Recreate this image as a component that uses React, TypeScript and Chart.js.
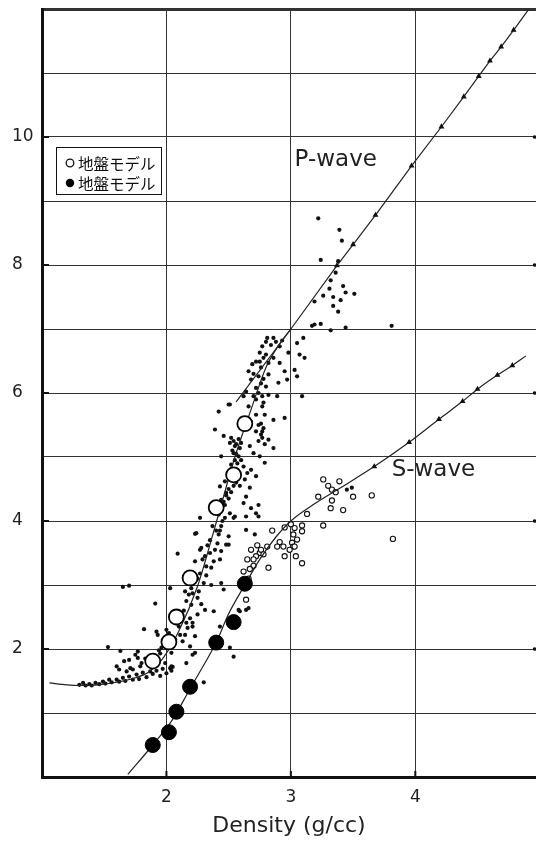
import React, { useEffect, useRef } from 'react';
import { Chart, registerables } from 'chart.js';

Chart.register(...registerables);

// ---------- data ----------
const xTickLabels = ['2', '3', '4'];
const yTickLabels = ['2', '4', '6', '8', '10'];
const legendLabels = ['地盤モデル', '地盤モデル'];
const waveLabels = ['P-wave', 'S-wave'];

// ground-model points (shared density)
const modelDensity = [1.89, 2.02, 2.08, 2.19, 2.40, 2.54, 2.63];
const modelVp = [1.81, 2.11, 2.50, 3.11, 4.21, 4.72, 5.52];
const modelVs = [0.50, 0.70, 1.02, 1.41, 2.10, 2.42, 3.02];

// P-wave trend curve (low density, curved)
const pCurveX = [1.06, 1.20, 1.30, 1.45, 1.60, 1.75, 1.85, 1.97, 2.10, 2.25, 2.36, 2.45, 2.55, 2.68, 2.80, 2.90, 3.00];
const pCurveY = [1.47, 1.44, 1.43, 1.44, 1.48, 1.55, 1.63, 1.85, 2.28, 2.98, 3.70, 4.32, 5.00, 5.74, 6.40, 6.74, 7.00];

// P-wave straight trend line
const pLineX = [2.56, 3.00, 3.37, 3.50, 3.68, 3.97, 4.21, 4.39, 4.51, 4.60, 4.69, 4.79, 4.91];
const pLineY = [5.86, 7.00, 7.99, 8.32, 8.78, 9.55, 10.16, 10.63, 10.95, 11.19, 11.41, 11.67, 11.99];
const pLineMark = [0, 0, 1, 1, 1, 1, 1, 1, 1, 1, 1, 1, 0];

// S-wave trend line
const sLineX = [1.69, 1.89, 2.05, 2.19, 2.30, 2.40, 2.50, 2.63, 2.75, 2.88, 3.00, 3.20, 3.40, 3.67, 3.95, 4.19, 4.38, 4.50, 4.66, 4.78, 4.89];
const sLineY = [0.04, 0.50, 0.90, 1.38, 1.75, 2.10, 2.55, 3.00, 3.40, 3.75, 4.00, 4.28, 4.52, 4.85, 5.23, 5.59, 5.87, 6.06, 6.28, 6.43, 6.58];
const sLineMark = [0, 0, 0, 0, 0, 0, 0, 0, 0, 0, 0, 0, 0, 1, 1, 1, 1, 1, 1, 1, 0];

// P-wave observations (small filled dots)
const pDotX = [
  1.30, 1.33, 1.35, 1.38, 1.40, 1.43, 1.46, 1.49, 1.51, 1.54, 1.56, 1.60, 1.62, 1.62, 1.65, 1.67, 1.68, 1.70, 1.71, 1.73,
  1.73, 1.76, 1.78, 1.79, 1.81, 1.84, 1.87, 1.89, 1.92, 1.95, 1.97, 2.00, 2.03, 2.04, 2.05,
  1.53, 1.63, 1.60, 1.66, 1.70, 1.75, 1.77, 1.77, 1.82, 1.87, 1.91, 1.92, 1.93, 1.95, 1.99, 2.04, 2.04, 2.13, 2.16, 2.16,
  2.21, 2.23, 1.65, 1.70, 2.03, 2.07, 2.11, 2.15, 2.17, 2.19, 2.19, 2.21, 2.21, 2.23, 2.25, 2.20, 2.25, 2.31, 2.38, 2.15,
  2.21, 2.30, 2.36, 2.44, 2.46, 2.43, 2.59, 2.66, 2.51, 2.54, 2.30, 2.58, 2.64,
  2.09, 2.23, 2.23, 2.24, 2.27, 2.27, 2.28, 2.32, 2.35, 2.36, 2.38, 2.42, 2.43, 2.44, 2.48, 2.50, 2.50, 2.64, 2.71, 2.55,
  2.72, 2.74, 2.38, 2.51, 2.54, 2.64,
  2.44, 2.48, 2.43, 2.47, 2.62, 2.64, 2.68, 2.74, 2.63, 2.67, 2.68, 2.72, 2.44, 2.54, 2.58, 2.70, 2.75, 2.79, 2.51, 2.55,
  2.59, 2.67, 2.86, 2.77, 2.77, 2.82, 2.39, 2.46, 2.51, 2.42, 2.50, 2.66, 2.77, 2.79, 2.72, 2.95, 2.86, 2.64, 2.72, 2.80,
  2.77, 2.89, 3.09, 2.82, 2.66, 2.68, 2.74, 2.82, 2.95, 2.97, 2.90, 3.03, 3.05, 2.75, 2.72, 2.82, 2.91, 2.75, 2.77, 2.91,
  2.98, 3.05, 3.07, 3.11, 2.81, 2.86,
  3.10, 3.17, 3.19, 3.24, 3.32, 3.44, 3.81, 3.19, 3.34, 3.38, 3.26, 3.34, 3.40, 3.51, 3.44, 3.31, 3.42, 3.32, 3.36, 3.24,
  3.38, 3.41, 3.39, 3.22, 3.45, 3.49,
  2.52, 2.54, 2.56, 2.53, 2.56, 2.55, 2.57, 2.52, 2.58, 2.60, 2.57, 2.56, 2.54, 2.50, 2.48, 2.46, 2.44, 2.42, 2.47, 2.45,
  2.44, 2.43, 2.47, 2.50, 2.52, 2.58, 2.59, 2.74, 2.76, 2.78, 2.76, 2.74, 2.79, 2.72, 2.78, 2.72, 2.70, 2.74, 2.76, 2.78,
  2.70, 2.76, 2.78, 2.80, 2.84, 2.88, 2.80, 2.86, 2.93, 2.69, 2.62, 2.60, 2.62, 2.64, 2.66, 2.68, 2.60, 2.62, 2.65, 2.35,
  2.33, 2.31, 2.29, 2.27, 2.25, 2.22, 2.20, 2.18, 2.16, 2.14, 2.12, 2.26, 2.28, 2.10, 2.08, 2.02, 1.98, 1.96, 1.94, 1.90,
  1.85, 1.83, 1.80, 2.00, 2.32, 2.39, 2.41, 2.37, 2.40,
];
const pDotY = [
  1.44, 1.47, 1.43, 1.45, 1.43, 1.47, 1.45, 1.49, 1.46, 1.52, 1.48, 1.52, 1.49, 1.68, 1.55, 1.50, 1.65, 1.57, 1.70, 1.52,
  1.68, 1.60, 1.53, 1.73, 1.63, 1.56, 1.65, 1.61, 1.66, 1.58, 1.69, 1.62, 1.70, 1.66, 1.72,
  2.03, 1.97, 1.73, 1.81, 1.83, 1.91, 1.96, 1.86, 2.31, 1.88, 2.71, 2.27, 2.22, 1.93, 1.78, 1.73, 1.94, 2.12, 1.78, 2.41,
  2.41, 1.94, 2.97, 2.99, 2.95, 2.15, 2.22, 2.22, 2.33, 2.04, 2.48, 1.91, 2.35, 2.20, 2.54, 2.69, 2.80, 2.61, 2.59, 2.90,
  2.87, 3.03, 3.00, 3.03, 2.93, 2.35, 2.59, 2.64, 2.02, 1.88, 1.48, 2.61, 2.61,
  3.49, 3.37, 3.80, 3.81, 4.05, 3.55, 3.58, 3.29, 3.50, 3.27, 3.37, 3.79, 3.40, 3.53, 3.63, 3.63, 3.76, 3.86, 3.79, 4.07,
  4.12, 4.07, 4.12, 4.12, 4.05, 4.07,
  4.33, 4.44, 4.54, 4.62, 4.28, 4.38, 4.20, 4.25, 4.65, 4.52, 4.80, 4.70, 5.01, 5.06, 5.01, 5.06, 5.01, 4.91, 5.22, 5.17,
  5.14, 5.17, 5.14, 5.40, 5.30, 5.27, 5.43, 5.33, 5.82, 5.71, 5.82, 5.79, 5.79, 5.66, 5.66, 5.61, 5.58, 6.02, 6.08, 6.10,
  5.95, 5.95, 5.95, 5.97, 6.34, 6.21, 6.26, 6.29, 6.34, 6.21, 6.16, 6.36, 6.26, 6.49, 6.49, 6.47, 6.47, 6.63, 6.73, 6.73,
  6.63, 6.78, 6.60, 6.55, 6.86, 6.86,
  6.86, 7.05, 7.07, 7.08, 6.98, 7.02, 7.05, 7.43, 7.36, 7.27, 7.52, 7.50, 7.45, 7.55, 7.57, 7.63, 7.67, 7.76, 7.88, 8.08,
  8.06, 8.38, 8.55, 8.73, 4.49, 4.52,
  5.30, 5.25, 5.20, 5.10, 5.05, 4.95, 4.90, 4.88, 5.28, 5.22, 4.80, 4.60, 4.55, 4.50, 4.40, 4.30, 4.20, 4.10, 4.05, 4.00,
  3.92, 3.85, 4.25, 4.35, 4.45, 4.70, 4.55, 5.25, 5.35, 5.45, 5.52, 5.50, 5.20, 5.40, 5.85, 5.90, 5.95, 6.00, 6.15, 6.22,
  6.30, 6.40, 6.55, 6.60, 6.75, 6.80, 6.80, 6.55, 6.82, 6.45, 5.95, 5.60, 5.50, 5.45, 5.60, 5.55, 4.95, 4.85, 4.75, 3.70,
  3.62, 3.45, 3.40, 3.18, 3.10, 3.05, 2.95, 2.85, 2.75, 2.60, 2.50, 2.90, 2.70, 2.35, 2.40, 2.25, 2.10, 2.02, 1.98, 1.90,
  1.80, 1.85, 1.78, 2.30, 3.15, 3.55, 3.65, 3.92, 3.85,
];

// S-wave observations (small open circles)
const sObsX = [
  3.26, 3.39, 3.33, 3.22, 3.33, 3.50, 3.65, 3.32, 3.42, 3.26, 3.13, 3.09, 3.03, 3.09, 3.02, 3.05, 3.01, 3.02, 2.99, 2.95,
  3.04, 3.09, 2.85, 2.91, 2.89, 2.81, 2.75, 2.72, 2.70, 3.82, 2.94, 3.03, 2.82, 2.65, 2.68, 2.70, 2.73, 2.76, 2.78, 2.67,
  2.62, 2.64, 2.66, 2.95, 3.00, 3.36, 3.30,
];
const sObsY = [
  4.65, 4.62, 4.49, 4.38, 4.32, 4.38, 4.40, 4.20, 4.17, 3.93, 4.11, 3.93, 3.89, 3.84, 3.79, 3.71, 3.66, 3.60, 3.55, 3.45,
  3.45, 3.34, 3.85, 3.67, 3.60, 3.60, 3.50, 3.45, 3.40, 3.72, 3.60, 3.60, 3.27, 3.40, 3.55, 3.30, 3.62, 3.55, 3.48, 3.25,
  3.21, 2.77, 3.10, 3.90, 3.95, 4.45, 4.55,
];

const FONT = '"DejaVu Sans", "Liberation Sans", Arial, sans-serif';
const CJK = '"Noto Sans CJK JP", "Noto Sans CJK SC", sans-serif';

const pts = (xs: number[], ys: number[]) => xs.map((x, i) => ({ x, y: ys[i] }));

const overlayPlugin = {
  id: 'overlay',
  afterDraw(chart: any) {
    const { ctx, chartArea: a, scales } = chart;
    const x = scales.x;
    const y = scales.y;
    ctx.save();
    // inner tick stubs + right-edge tick dots
    ctx.strokeStyle = '#111';
    ctx.fillStyle = '#111';
    ctx.lineWidth = 2;
    yTickLabels.forEach((t) => {
      const py = y.getPixelForValue(Number(t));
      ctx.beginPath();
      ctx.moveTo(a.left, py);
      ctx.lineTo(a.left + 7, py);
      ctx.stroke();
      ctx.beginPath();
      ctx.arc(a.right - 1.5, py, 1.8, 0, Math.PI * 2);
      ctx.fill();
    });
    xTickLabels.forEach((t) => {
      const px = x.getPixelForValue(Number(t));
      ctx.beginPath();
      ctx.moveTo(px, a.bottom);
      ctx.lineTo(px, a.bottom - 6);
      ctx.stroke();
    });

    // wave labels
    ctx.fillStyle = '#222';
    ctx.font = `23px ${FONT}`;
    ctx.textBaseline = 'alphabetic';
    ctx.textAlign = 'left';
    ctx.fillText(waveLabels[0], x.getPixelForValue(3.03), y.getPixelForValue(9.54));
    ctx.fillText(waveLabels[1], x.getPixelForValue(3.81), y.getPixelForValue(4.70));

    // legend box
    const bx = 56.5, by = 147.5, bw = 105, bh = 47;
    ctx.fillStyle = '#fff';
    ctx.fillRect(bx, by, bw, bh);
    ctx.strokeStyle = '#111';
    ctx.lineWidth = 1;
    ctx.strokeRect(bx, by, bw, bh);
    // markers
    ctx.lineWidth = 1.3;
    ctx.beginPath();
    ctx.arc(70, 163, 3.8, 0, Math.PI * 2);
    ctx.fillStyle = '#fff';
    ctx.fill();
    ctx.stroke();
    ctx.beginPath();
    ctx.arc(70, 183, 4.2, 0, Math.PI * 2);
    ctx.fillStyle = '#000';
    ctx.fill();
    ctx.font = `15.5px ${CJK}`;
    ctx.textBaseline = 'middle';
    ctx.fillStyle = '#111';
    ctx.fillText(legendLabels[0], 78, 164);
    ctx.fillText(legendLabels[1], 78, 184);
    ctx.restore();
  },
};

export default function App() {
  const ref = useRef<HTMLCanvasElement | null>(null);

  useEffect(() => {
    if (!ref.current) return;
    const chart = new Chart(ref.current, {
      type: 'scatter',
      data: {
        datasets: [
          {
            data: pts(modelDensity, modelVp),
            pointRadius: 7.5,
            pointBackgroundColor: '#ffffff',
            pointBorderColor: '#000000',
            pointBorderWidth: 1.8,
            order: 0,
          },
          {
            data: pts(modelDensity, modelVs),
            pointRadius: 7.5,
            pointBackgroundColor: '#000000',
            pointBorderColor: '#000000',
            pointBorderWidth: 1,
            order: 1,
          },
          {
            data: pts(pCurveX, pCurveY),
            showLine: true,
            pointRadius: 0,
            borderColor: '#222',
            borderWidth: 1.2,
            cubicInterpolationMode: 'monotone',
            fill: false,
            order: 2,
          },
          {
            data: pts(pLineX, pLineY),
            showLine: true,
            pointStyle: 'triangle',
            pointRadius: pLineMark.map((m) => (m ? 2.2 : 0)),
            pointBackgroundColor: '#111',
            pointBorderColor: '#111',
            borderColor: '#222',
            borderWidth: 1.2,
            fill: false,
            order: 2,
          },
          {
            data: pts(sLineX, sLineY),
            showLine: true,
            pointStyle: 'triangle',
            pointRadius: sLineMark.map((m) => (m ? 2.2 : 0)),
            pointBackgroundColor: '#111',
            pointBorderColor: '#111',
            borderColor: '#222',
            borderWidth: 1.2,
            cubicInterpolationMode: 'monotone',
            fill: false,
            order: 2,
          },
          {
            data: pts(sObsX, sObsY),
            pointRadius: 2.6,
            pointBackgroundColor: '#ffffff',
            pointBorderColor: '#111',
            pointBorderWidth: 1.1,
            order: 4,
          },
          {
            data: pts(pDotX, pDotY),
            pointRadius: 2.1,
            pointBackgroundColor: '#111',
            pointBorderWidth: 0,
            order: 5,
          },
        ],
      },
      options: {
        animation: false,
        responsive: false,
        maintainAspectRatio: false,
        events: [],
        layout: { autoPadding: false, padding: { left: 12, top: 9, right: 0, bottom: 0 } },
        plugins: { legend: { display: false }, tooltip: { enabled: false } },
        scales: {
          x: {
            type: 'linear',
            min: 1,
            max: 4.97,
            afterFit: (s: any) => {
              s.height = 65;
              s.paddingLeft = 0;
              s.paddingRight = 0;
            },
            ticks: {
              stepSize: 1,
              includeBounds: false,
              autoSkip: false,
              maxRotation: 0,
              padding: 10,
              color: '#222',
              font: { family: FONT, size: 17 },
              callback: (v: any) => (xTickLabels.includes(String(v)) ? String(v) : ''),
            },
            grid: {
              drawTicks: false,
              color: '#333',
              lineWidth: 1,
            },
            border: { display: true, color: '#111', width: 3 },
            title: {
              display: true,
              text: 'Density (g/cc)',
              color: '#222',
              font: { family: FONT, size: 22 },
              padding: { top: 0, bottom: 3 },
            },
          },
          y: {
            type: 'linear',
            min: 0,
            max: 12,
            afterFit: (s: any) => {
              s.width = 30;
              s.paddingTop = 0;
              s.paddingBottom = 0;
            },
            ticks: {
              stepSize: 1,
              autoSkip: false,
              crossAlign: 'far',
              color: '#222',
              font: { family: FONT, size: 17 },
              callback: (v: any) => (yTickLabels.includes(String(v)) ? String(v) : ''),
            },
            grid: {
              drawTicks: false,
              color: '#333',
              lineWidth: (c: any) => (c.tick && c.tick.value === 12 ? 3 : 1),
            },
            border: { display: true, color: '#111', width: 3 },
          },
        },
      },
      plugins: [overlayPlugin],
    } as any);
    return () => chart.destroy();
  }, []);

  return (
    <div style={{ position: 'absolute', left: 0, top: 0, width: 536, height: 842, background: '#fff' }}>
      <canvas ref={ref} width={536} height={842} style={{ width: 536, height: 842, display: 'block' }} />
    </div>
  );
}
